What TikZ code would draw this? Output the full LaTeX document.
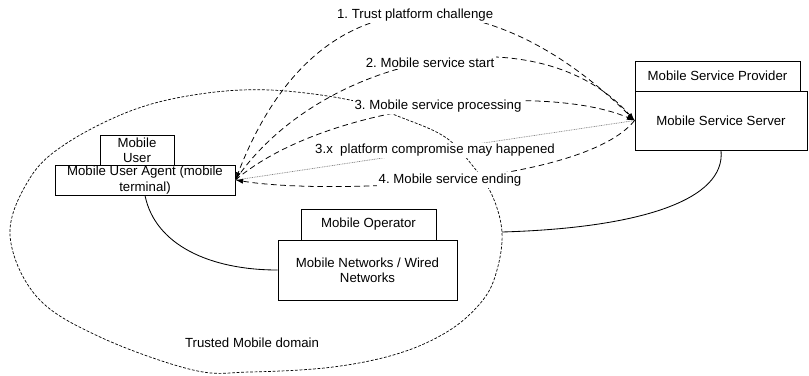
\documentclass[tikz,border=0pt]{standalone}
\usepackage{fontspec}
\setmainfont{Liberation Sans}
\usetikzlibrary{arrows.meta}
\frenchspacing

\tikzset{
  box/.style={draw, fill=white, line width=0.6pt, inner sep=0pt, align=center,
    font=\fontsize{9.4}{10.8}\selectfont},
  msg/.style={dash pattern=on 4pt off 2.6pt, line width=0.55pt},
  dotmsg/.style={gray, dash pattern=on 0.6pt off 0.6pt, line width=0.5pt},
  msglabel/.style={fill=white, text=black, inner sep=1pt, font=\fontsize{9.4}{10.8}\selectfont},
  tip/.style={-{Latex[length=5.5pt,width=3.6pt]}},
  domainline/.style={dash pattern=on 2pt off 1.2pt, line width=0.5pt},
  wire/.style={line width=0.6pt}
}

\begin{document}
\begin{tikzpicture}[x=0.025cm, y=-0.025cm]
\useasboundingbox (0,0) rectangle (809,375);

% trusted domain outline
\draw[domainline] plot[smooth cycle, tension=0.6] coordinates {
  (10,235) (30,178) (67,143) (133,110) (200,94) (270,90) (350,100) (400,117)
  (445,137) (472,165) (492,195) (502,232) (497,270) (483,300) (450,330)
  (400,353) (333,367) (250,372) (193,370) (100,337) (37,297)};
\coordinate (domEdge) at (502,232);
\node[msglabel, fill=none] (domName) at (252,343) {Trusted Mobile domain};

% user side
\node[box, minimum width=1.85cm, minimum height=0.75cm] (user) at (137,150) {Mobile\\User};
\node[box, minimum width=4.5cm, minimum height=0.75cm] (agent) at (145,180) {Mobile User Agent (mobile\\terminal)};

% operator
\node[box, minimum width=3.375cm, minimum height=0.775cm] (operator) at (368.5,224.5) {Mobile Operator};
\node[box, minimum width=4.475cm, minimum height=1.5cm] (networks) at (367.5,270) {Mobile Networks / Wired\\Networks};

% provider
\node[box, minimum width=4.125cm, minimum height=0.75cm] (provider) at (717.5,76) {Mobile Service Provider};
\node[box, minimum width=4.3cm, minimum height=1.475cm] (server) at (721,120.5) {Mobile Service Server};

% links
\draw[wire] (agent.south) .. controls (155,245) and (210,270) .. (networks.west);
\draw[wire] (server.south) .. controls (726,200) and (640,228) .. (domEdge);

% messages
\draw[msg, tip] (server.west) .. controls (497,-20) and (320,-40) .. (agent.east)
  node[msglabel, pos=0.5] (m1) {1. Trust platform challenge};
\draw[msg, tip] (agent.east) .. controls (320,56) and (537,10) .. (server.west)
  node[msglabel, pos=0.5] (m2) {2. Mobile service start};
\draw[msg, tip] (agent.east) .. controls (330,100) and (548,83) .. (server.west)
  node[msglabel, pos=0.5] (m3) {3. Mobile service processing};
\draw[dotmsg] (agent.east) -- (server.west)
  node[msglabel, pos=0.5] (m3x) {3.x~~platform compromise may happened};
\draw[msg, tip] (server.west) .. controls (583,185) and (327,195) .. (agent.east)
  node[msglabel, pos=0.5] (m4) {4. Mobile service ending};
\end{tikzpicture}
\end{document}
